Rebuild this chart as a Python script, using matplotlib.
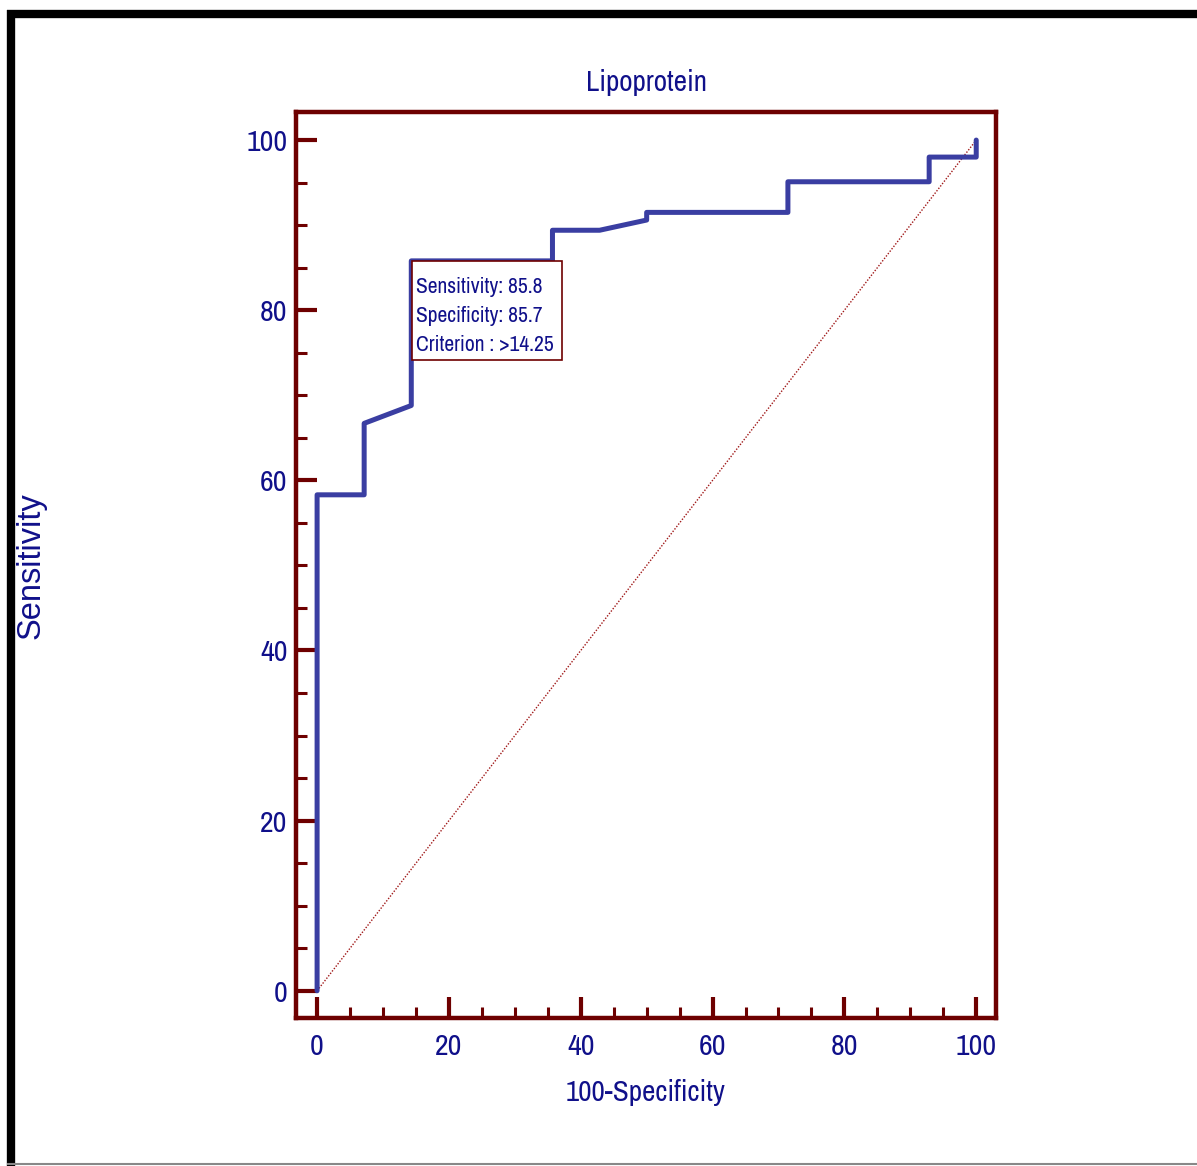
import matplotlib
matplotlib.use("Agg")
import matplotlib.pyplot as plt
from matplotlib.lines import Line2D
from matplotlib.patches import Rectangle
from matplotlib.ticker import MultipleLocator

# ---- data ----
fpr = [0, 0, 7.14, 7.14, 14.29, 14.29, 35.71, 35.71, 42.86, 50.0, 50.0,
       71.43, 71.43, 92.86, 92.86, 100, 100]
tpr = [0, 58.3, 58.3, 66.7, 68.8, 85.8, 85.8, 89.4, 89.4, 90.6, 91.5,
       91.5, 95.1, 95.1, 98.0, 98.0, 100]
diag_x = [0, 100]
diag_y = [0, 100]
opt_point = (14.29, 85.8)
opt_text = ["Sensitivity: 85.8", "Specificity: 85.7", "Criterion : >14.25"]
x_ticks = [0, 20, 40, 60, 80, 100]
y_ticks = [0, 20, 40, 60, 80, 100]
title = "Lipoprotein"
xlabel = "100-Specificity"
ylabel = "Sensitivity"

narrow_fam = ["Archivo Narrow", "Liberation Sans", "DejaVu Sans"]
wide_fam = ["Liberation Sans", "DejaVu Sans"]

maroon = "#6e0000"
navy = "#10108a"
blue = "#3a3ea2"

W, H = 1197, 1166
fig = plt.figure(figsize=(W / 100, H / 100), dpi=100)

ax_w_px, ax_h_px = 700, 906
ax = fig.add_axes([296 / W, 1 - 1018 / H, ax_w_px / W, ax_h_px / H])
xlim = (-3.2, 103.0)
ylim = (-3.2, 103.3)
ax.set_xlim(*xlim)
ax.set_ylim(*ylim)
px_x = ax_w_px / (xlim[1] - xlim[0])
px_y = ax_h_px / (ylim[1] - ylim[0])

ax.plot(diag_x, diag_y, color="#a01818", lw=1.0, ls=(0, (1, 1.2)), zorder=2)
ax.plot(fpr, tpr, color=blue, lw=3.6, solid_joinstyle="round",
        solid_capstyle="round", zorder=3)

for s in ax.spines.values():
    s.set_color(maroon)
    s.set_linewidth(3.2)

ax.set_xticks(x_ticks)
ax.set_yticks(y_ticks)
ax.xaxis.set_minor_locator(MultipleLocator(5))
ax.yaxis.set_minor_locator(MultipleLocator(5))
ax.tick_params(which="major", direction="in", length=15, width=3.0,
               color=maroon, labelcolor=navy, labelsize=21.5, pad=11)
ax.tick_params(which="minor", direction="in", length=8, width=2.2,
               color=maroon)
ax.tick_params(axis="y", which="both", pad=6)
for lab in ax.get_xticklabels() + ax.get_yticklabels():
    lab.set_family(narrow_fam)

# annotation box: 150 x 99 px, top-left at the optimal point
bx = opt_point[0] + 1.0 / px_x
bw = 150 / px_x
bh = 99 / px_y
ax.add_patch(Rectangle((bx, opt_point[1] - bh), bw, bh, fc="white",
                       ec=maroon, lw=1.2, zorder=5))
ax.annotate("\n".join(opt_text), xy=opt_point, xytext=(5, -16),
            textcoords="offset pixels", ha="left", va="top",
            fontsize=15.5, color=navy, family=narrow_fam, linespacing=1.58,
            zorder=6)

fig.text(646 / W, 1 - 83 / H, title, ha="center", va="center",
         fontsize=21, color=navy, family=narrow_fam)
fig.text(646 / W, 1 - 1093 / H, xlabel, ha="center", va="center",
         fontsize=21, color=navy, family=narrow_fam)
fig.text(31 / W, 1 - 566 / H, ylabel, ha="center", va="center",
         rotation=90, fontsize=23.5, color=navy, family=wide_fam)

# figure border
fig.add_artist(Line2D([11 / W, 11 / W], [0, 1 - 10 / H], color="black",
                      lw=6, transform=fig.transFigure, solid_capstyle="butt"))
fig.add_artist(Line2D([7 / W, 1], [1 - 14 / H, 1 - 14 / H], color="black",
                      lw=6, transform=fig.transFigure, solid_capstyle="butt"))
fig.add_artist(Line2D([7 / W, 1], [1 - 1164 / H, 1 - 1164 / H], color="#888888",
                      lw=1.5, transform=fig.transFigure, solid_capstyle="butt"))

fig.savefig("out.png", dpi=100, facecolor="white")
